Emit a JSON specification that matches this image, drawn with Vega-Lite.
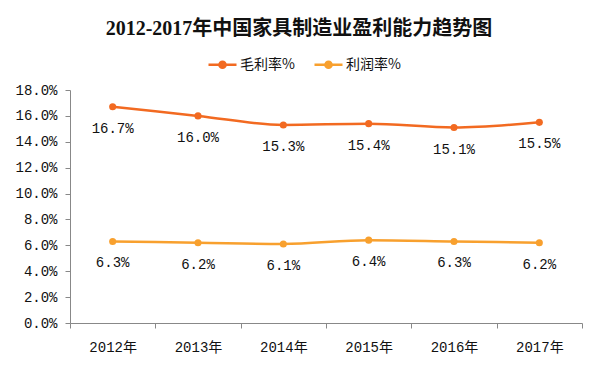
{
  "$schema": "https://vega.github.io/schema/vega-lite/v6.json",
  "autosize": "none",
  "width": 512,
  "height": 233,
  "padding": {"left": 70, "top": 90, "right": 18, "bottom": 52},
  "background": "white",
  "title": {
    "text": "2012-2017年中国家具制造业盈利能力趋势图",
    "font": "Liberation Serif, Noto Sans CJK SC",
    "fontSize": 20,
    "fontWeight": "bold",
    "color": "#111111",
    "anchor": "middle",
    "frame": "group",
    "dx": -27,
    "offset": 10
  },
  "data": {
    "values": [
      {"year": "2012年", "series": "毛利率%", "value": 16.7},
      {"year": "2013年", "series": "毛利率%", "value": 16.0},
      {"year": "2014年", "series": "毛利率%", "value": 15.3},
      {"year": "2015年", "series": "毛利率%", "value": 15.4},
      {"year": "2016年", "series": "毛利率%", "value": 15.1},
      {"year": "2017年", "series": "毛利率%", "value": 15.5},
      {"year": "2012年", "series": "利润率%", "value": 6.3},
      {"year": "2013年", "series": "利润率%", "value": 6.2},
      {"year": "2014年", "series": "利润率%", "value": 6.1},
      {"year": "2015年", "series": "利润率%", "value": 6.4},
      {"year": "2016年", "series": "利润率%", "value": 6.3},
      {"year": "2017年", "series": "利润率%", "value": 6.2}
    ]
  },
  "encoding": {
    "x": {
      "field": "year",
      "type": "nominal",
      "sort": null,
      "scale": {"type": "band", "paddingInner": 0, "paddingOuter": 0},
      "axis": {
        "title": null,
        "labelAngle": 0,
        "labelFont": "Liberation Mono, Noto Sans CJK SC",
        "labelFontSize": 14,
        "labelColor": "#111111",
        "labelPadding": 12,
        "tickBand": "extent",
        "tickSize": 5,
        "tickColor": "#888888",
        "domainColor": "#888888",
        "grid": false
      }
    },
    "y": {
      "field": "value",
      "type": "quantitative",
      "scale": {"domain": [0, 18], "nice": false},
      "axis": {
        "title": null,
        "values": [0, 2, 4, 6, 8, 10, 12, 14, 16, 18],
        "labelExpr": "format(datum.value, '.1f') + '%'",
        "labelFont": "Liberation Mono, Noto Sans CJK SC",
        "labelFontSize": 14,
        "labelColor": "#111111",
        "labelPadding": 8,
        "tickSize": 5,
        "tickColor": "#888888",
        "domainColor": "#888888",
        "grid": false
      }
    },
    "color": {
      "field": "series",
      "type": "nominal",
      "sort": ["毛利率%", "利润率%"],
      "scale": {"domain": ["毛利率%", "利润率%"], "range": ["#F26A21", "#F8A02E"]},
      "legend": {
        "title": null,
        "orient": "none",
        "legendX": 137,
        "legendY": -41,
        "direction": "horizontal",
        "columnPadding": 14,
        "symbolType": "M-1,0L1,0M-0.22,0A0.22,0.22,0,1,0,0.22,0A0.22,0.22,0,1,0,-0.22,0Z",
        "symbolSize": 784,
        "symbolStrokeWidth": 2.5,
        "labelFont": "Noto Sans CJK SC",
        "labelFontSize": 14,
        "labelColor": "#111111",
        "labelOffset": 2,
        "encode": {
          "symbols": {"update": {"fill": {"scale": "color", "field": "value"}}}
        }
      }
    }
  },
  "layer": [
    {
      "mark": {"type": "line", "strokeWidth": 2.5, "interpolate": "monotone"}
    },
    {
      "mark": {"type": "point", "filled": true, "size": 50, "opacity": 1},
      "encoding": {"shape": {"value": "circle"}}
    },
    {
      "transform": [{"calculate": "format(datum.value, '.1f') + '%'", "as": "label"}],
      "mark": {
        "type": "text",
        "dy": 22,
        "font": "Liberation Mono, Noto Sans CJK SC",
        "fontSize": 14,
        "color": "#111111"
      },
      "encoding": {
        "text": {"field": "label", "type": "nominal"},
        "color": {"value": "#111111"}
      }
    }
  ],
  "config": {
    "view": {"stroke": null}
  }
}
